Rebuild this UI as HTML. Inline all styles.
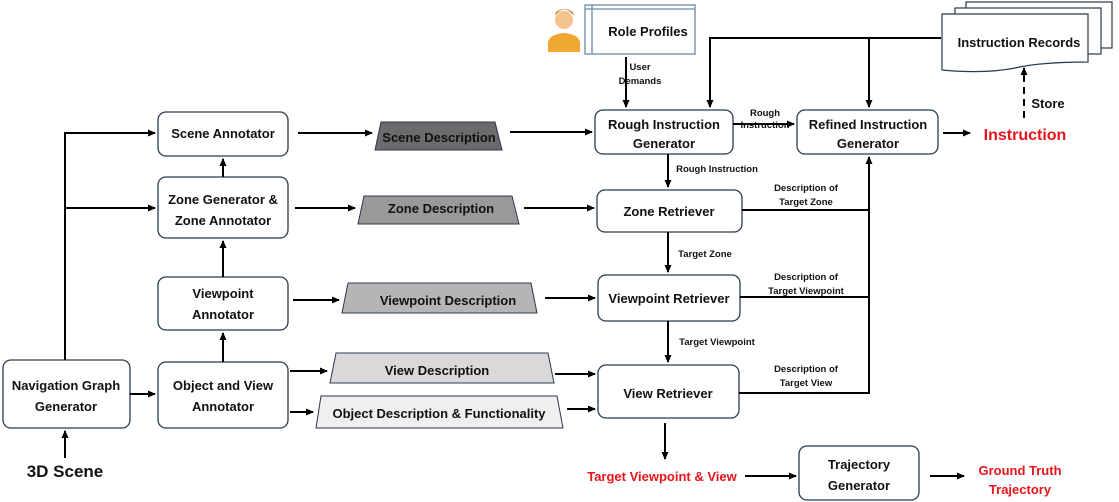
<!DOCTYPE html>
<html><head><style>body{margin:0;background:#fff}svg{display:block}text{font-family:"Liberation Sans",sans-serif;font-weight:bold;fill:#111}</style></head><body>
<svg width="1119" height="502" viewBox="0 0 1119 502" xmlns="http://www.w3.org/2000/svg">
<defs><marker id="a" markerWidth="8" markerHeight="8" refX="7" refY="4" orient="auto" markerUnits="userSpaceOnUse"><path d="M0,0.5 L8,4 L0,7.5z" fill="#000"/></marker></defs>
<g fill="#fff" stroke="#2b3a4a" stroke-width="1.3">
<rect x="158" y="112" width="130" height="44" rx="8"/>
<rect x="158" y="177" width="130" height="61" rx="8"/>
<rect x="158" y="277" width="130" height="53" rx="8"/>
<rect x="158" y="362" width="130" height="66" rx="8"/>
<rect x="3" y="360" width="127" height="68" rx="8"/>
<rect x="595" y="110" width="138" height="44" rx="8"/>
<rect x="797" y="110" width="141" height="44" rx="8"/>
<rect x="597" y="190" width="145" height="42" rx="8"/>
<rect x="598" y="275" width="142" height="46" rx="8"/>
<rect x="598" y="365" width="141" height="53" rx="8"/>
<rect x="799" y="446" width="120" height="54" rx="8"/>
</g>
<g stroke="#2b3a4a" stroke-width="1">
<polygon points="381,122 495,122 502,150 375,150" fill="#6b6b6b"/>
<polygon points="364,196 512,196 519,224 358,224" fill="#999"/>
<polygon points="348,283 531,283 537,313 342,313" fill="#b5b5b5"/>
<polygon points="336,353 548,353 554,383 330,383" fill="#d9d9d9"/>
<polygon points="321,396 557,396 563,428 316,428" fill="#efefef"/>
</g>
<g fill="#fff" stroke="#6a8aa5" stroke-width="1.3">
<rect x="585" y="5" width="110" height="49"/>
<line x1="585" y1="9" x2="695" y2="9"/><line x1="592" y1="5" x2="592" y2="54"/>
</g>
<circle cx="564" cy="20" r="9" fill="#f2c38f"/><path d="M555,16 Q564,3 574,16 L573,12 Q564,6 556,12z" fill="#c7843a"/>
<path d="M548,52 L548,42 Q550,34 564,33 Q578,34 580,42 L580,52z" fill="#f0a830"/>
<g fill="#fff" stroke="#2b3a4a" stroke-width="1.2">
<rect x="966" y="2" width="146" height="46"/>
<rect x="955" y="8" width="146" height="46"/>
<path d="M942,14 H1088 V62 Q1040,62 1015,68 Q985,74 942,70z"/>
</g>
<g stroke="#000" stroke-width="2" fill="none">
<path d="M65,360 V133 H155" marker-end="url(#a)"/>
<path d="M65,208 H155" marker-end="url(#a)"/>
<path d="M130,394 H155" marker-end="url(#a)"/>
<path d="M65,458 V431" marker-end="url(#a)"/>
<path d="M223,177 V159" marker-end="url(#a)"/>
<path d="M223,277 V241" marker-end="url(#a)"/>
<path d="M223,362 V333" marker-end="url(#a)"/>
<path d="M298,133 H372" marker-end="url(#a)"/>
<path d="M295,208 H355" marker-end="url(#a)"/>
<path d="M293,300 H339" marker-end="url(#a)"/>
<path d="M290,371 H327" marker-end="url(#a)"/>
<path d="M290,412 H313" marker-end="url(#a)"/>
<path d="M510,132 H592" marker-end="url(#a)"/>
<path d="M524,208 H594" marker-end="url(#a)"/>
<path d="M545,298 H595" marker-end="url(#a)"/>
<path d="M555,374 H595" marker-end="url(#a)"/>
<path d="M567,409 H595" marker-end="url(#a)"/>
<path d="M626,57 V107" marker-end="url(#a)"/>
<path d="M941,38 H710 V107" marker-end="url(#a)"/>
<path d="M869,38 V107" marker-end="url(#a)"/>
<path d="M733,124 H794" marker-end="url(#a)"/>
<path d="M668,154 V187" marker-end="url(#a)"/>
<path d="M668,232 V272" marker-end="url(#a)"/>
<path d="M668,321 V362" marker-end="url(#a)"/>
<path d="M742,210 H869 M740,297 H869 M739,393 H869 V157" marker-end="url(#a)"/>
<path d="M665,423 V459" marker-end="url(#a)"/>
<path d="M745,476 H796" marker-end="url(#a)"/>
<path d="M930,476 H964" marker-end="url(#a)"/>
<path d="M943,133 H970" marker-end="url(#a)"/>
<path d="M1024,118 V68" stroke-dasharray="7,5" marker-end="url(#a)"/>
</g>
<g font-size="13" text-anchor="middle">
<text x="223" y="138">Scene Annotator</text>
<text x="223" y="204">Zone Generator &amp;</text><text x="223" y="225">Zone Annotator</text>
<text x="223" y="298">Viewpoint</text><text x="223" y="319">Annotator</text>
<text x="223" y="390">Object and View</text><text x="223" y="411">Annotator</text>
<text x="66" y="390">Navigation Graph</text><text x="66" y="411">Generator</text>
<text x="439" y="142">Scene Description</text>
<text x="441" y="213">Zone Description</text>
<text x="448" y="305">Viewpoint Description</text>
<text x="437" y="375">View Description</text>
<text x="439" y="418">Object Description &amp; Functionality</text>
<text x="664" y="129">Rough Instruction</text><text x="664" y="148">Generator</text>
<text x="868" y="129">Refined Instruction</text><text x="868" y="148">Generator</text>
<text x="669" y="216">Zone Retriever</text>
<text x="669" y="303">Viewpoint Retriever</text>
<text x="668" y="398">View Retriever</text>
<text x="859" y="469">Trajectory</text><text x="859" y="490">Generator</text>
<text x="648" y="36">Role Profiles</text>
<text x="1019" y="47">Instruction Records</text>
<text x="1048" y="108">Store</text>
<text x="65" y="477" font-size="17">3D Scene</text>
</g>
<g font-size="9.5" text-anchor="middle">
<text x="640" y="70">User</text><text x="640" y="84">Demands</text>
<text x="765" y="116">Rough</text><text x="765" y="128">Instruction</text>
<text x="717" y="172">Rough Instruction</text>
<text x="806" y="191">Description of</text><text x="806" y="205">Target Zone</text>
<text x="705" y="257">Target Zone</text>
<text x="806" y="280">Description of</text><text x="806" y="294">Target Viewpoint</text>
<text x="717" y="345">Target Viewpoint</text>
<text x="806" y="372">Description of</text><text x="806" y="386">Target View</text>
</g>
<g text-anchor="middle">
<text x="1025" y="140" font-size="16" style="fill:#e8141b">Instruction</text>
<text x="662" y="481" font-size="13" style="fill:#e8141b">Target Viewpoint &amp; View</text>
<text x="1020" y="475" font-size="13" style="fill:#e8141b">Ground Truth</text>
<text x="1020" y="494" font-size="13" style="fill:#e8141b">Trajectory</text>
</g>
</svg>
</body></html>
